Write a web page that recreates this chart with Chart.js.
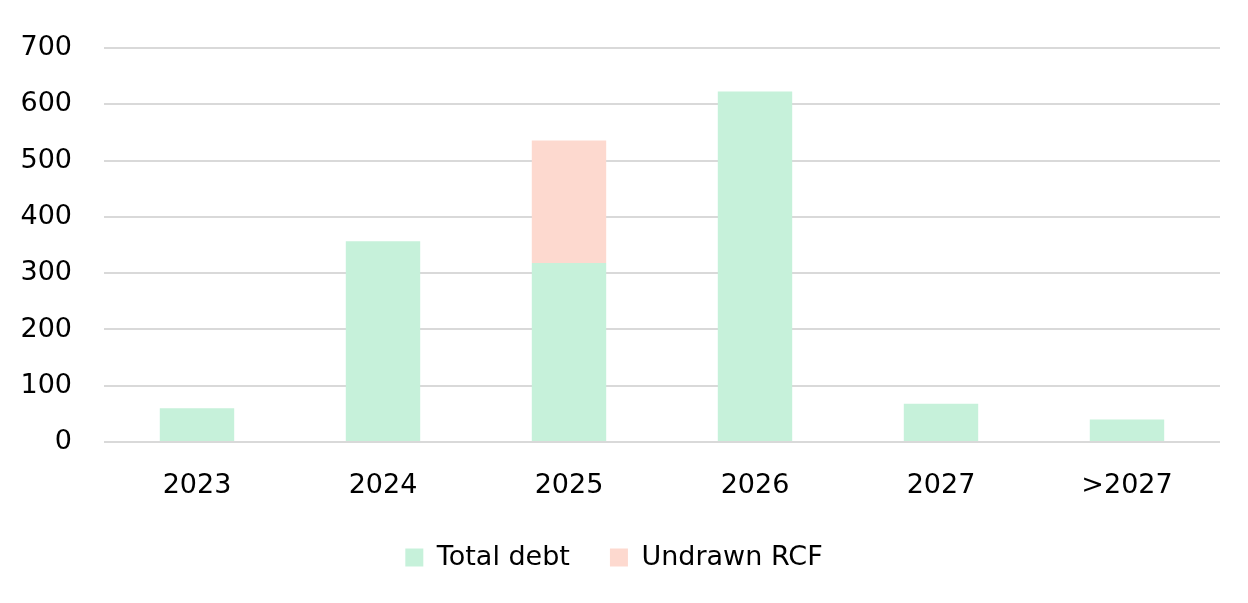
<!DOCTYPE html>
<html>
<head>
<meta charset="utf-8">
<script src="https://cdn.jsdelivr.net/npm/chart.js@4"></script>
<style>
  html, body { margin: 0; padding: 0; background: #fff; }
  #wrap { width: 1248px; height: 603px; }
</style>
</head>
<body>
<div id="wrap"><canvas id="debtChart" width="1248" height="603"></canvas></div>
<script>
const years = ['2023', '2024', '2025', '2026', '2027', '>2027'];
const totalDebt = [60, 357, 318, 623, 68, 40];
const undrawnRcf = [0, 0, 218, 0, 0, 0];

const FONT = 'DejaVu Sans';

const ctx = document.getElementById('debtChart').getContext('2d');
const debtChart = new Chart(ctx, {
    type: 'bar',
    data: {
        labels: years,
        datasets: [{
            label: 'Total debt',
            data: totalDebt,
            backgroundColor: '#C6F1DA',
            borderWidth: 0,
            barPercentage: 0.4,
            categoryPercentage: 1
        }, {
            label: 'Undrawn RCF',
            data: undrawnRcf,
            backgroundColor: '#FDD9CF',
            borderWidth: 0,
            barPercentage: 0.4,
            categoryPercentage: 1
        }]
    },
    options: {
        responsive: false,
        animation: false,
        layout: {
            padding: { top: 19, right: 28, left: 8, bottom: 22 }
        },
        scales: {
            x: {
                stacked: true,
                // labels keep their padding, the box is trimmed so the legend sits closer
                afterFit: (axis) => { axis.height = 62; },
                grid: { display: false, drawTicks: false },
                border: { display: false },
                ticks: {
                    color: '#000',
                    padding: 28,
                    font: { family: FONT, size: 27 }
                }
            },
            y: {
                stacked: true,
                min: 0,
                max: 700,
                afterFit: (axis) => { axis.width = 96; },
                grid: { color: '#D9D9D9', lineWidth: 2, drawTicks: false },
                border: { display: false },
                ticks: {
                    stepSize: 100,
                    color: '#000',
                    padding: 32,
                    font: { family: FONT, size: 27 }
                }
            }
        },
        plugins: {
            legend: {
                position: 'bottom',
                labels: {
                    color: '#000',
                    boxWidth: 18,
                    boxHeight: 18,
                    padding: 40,
                    font: { family: FONT, size: 27 }
                }
            },
            tooltip: { enabled: false }
        }
    }
});
</script>
</body>
</html>
